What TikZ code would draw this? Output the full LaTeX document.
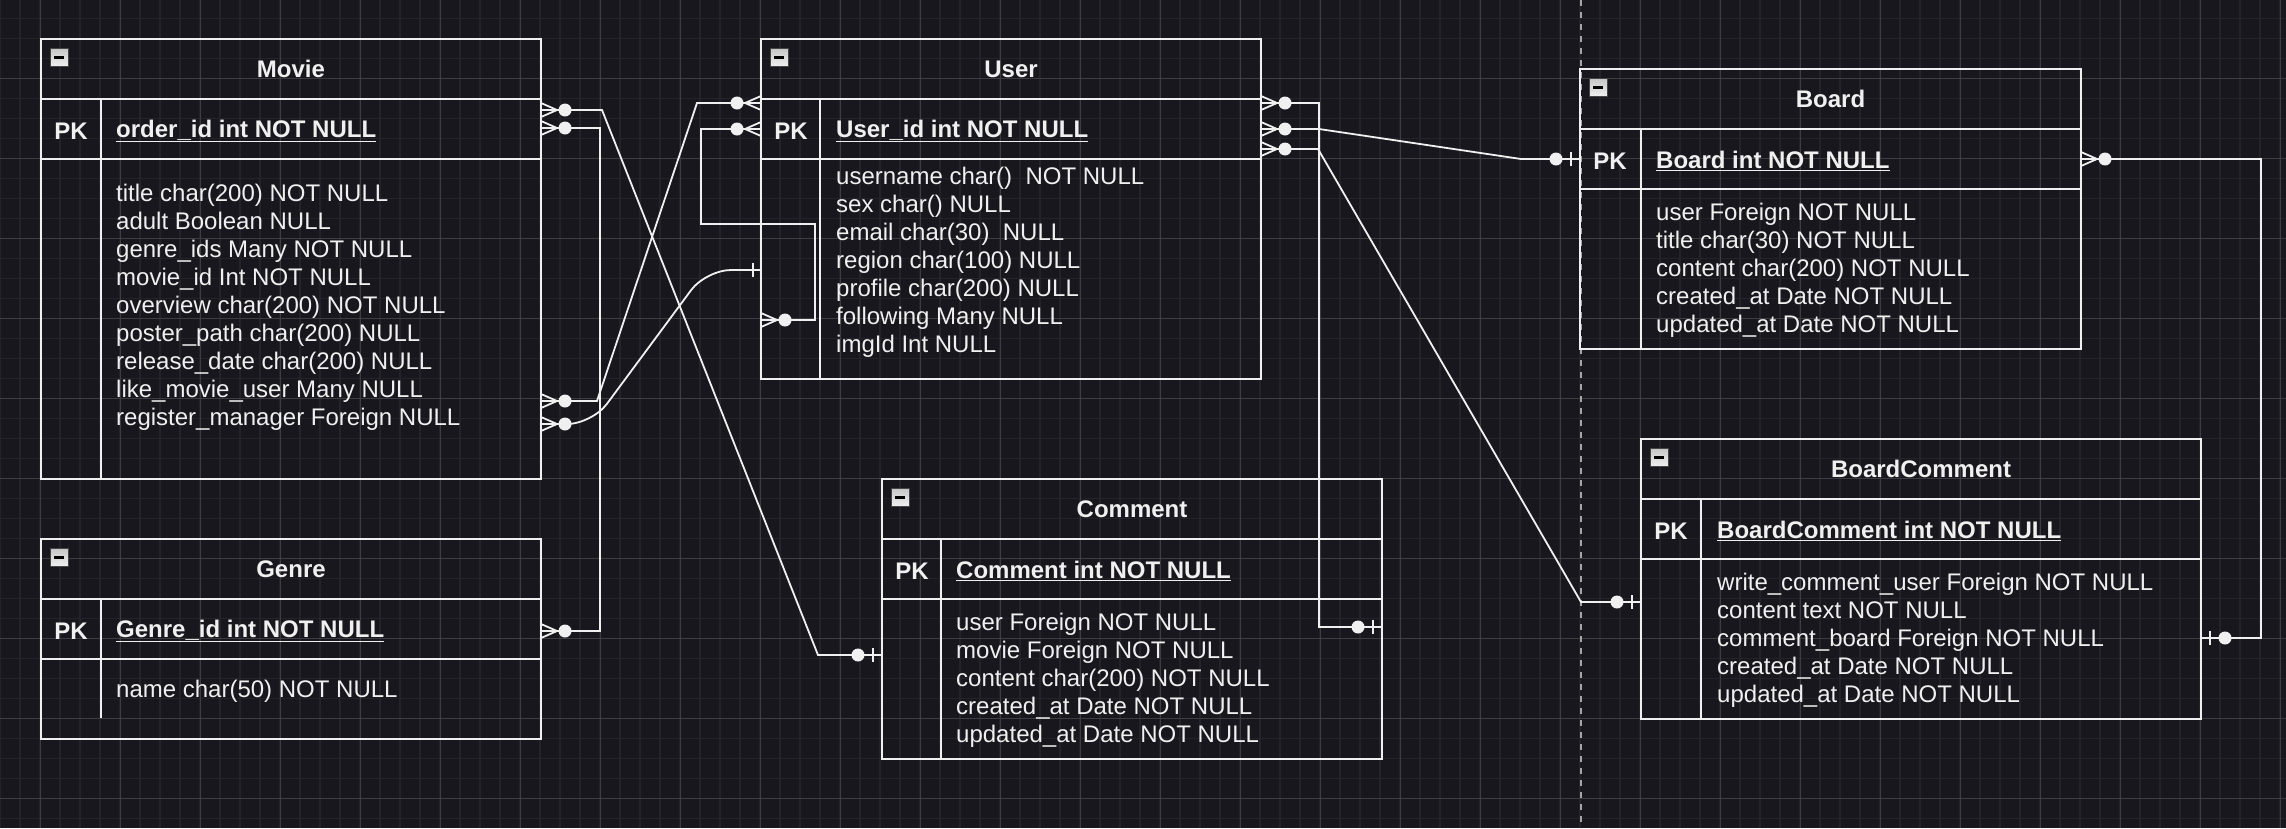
\documentclass[tikz,border=0pt]{standalone}
\usepackage{fontspec}
\setmainfont{Liberation Sans}
\usepackage{tikz}
\usetikzlibrary{positioning}
\definecolor{canvas}{RGB}{24,23,29}
\definecolor{gridminor}{RGB}{36,35,41}
\definecolor{gridmajor}{RGB}{62,61,66}
\definecolor{ink}{RGB}{240,240,240}
\newcommand{\erfont}{\fontsize{24}{28}\selectfont}
\tikzstyle{Link}=[draw=ink, line width=1.8pt]
\tikzset{
  ManyEnd/.pic={
    \draw[Link] (0,-7) -- (16,0) -- (0,7);
    \fill[ink] (24,0) circle[radius=6.5pt];
  },
  OneEnd/.pic={
    \draw[Link] (9,-7) -- (9,7);
    \fill[ink] (24,0) circle[radius=6.5pt];
  },
  BarEnd/.pic={
    \draw[Link] (8,-7) -- (8,7);
  }
}

\begin{document}
\begin{tikzpicture}[
  x=1pt, y=-1pt,
  Head/.style={draw=ink, line width=2.2pt, minimum height=60pt, outer sep=0, anchor=north west, font=\erfont\bfseries, text=ink},
  KeyRow/.style={draw=ink, line width=2.2pt, minimum height=60pt, outer sep=0},
  Body/.style={draw=ink, line width=2.2pt, outer sep=0},
  Frame/.style={draw=ink, line width=2.2pt},
  Pk/.style={font=\erfont\bfseries, text=ink, yshift=-2pt},
  Key/.style={anchor=west, inner sep=0, font=\erfont\bfseries, text=ink, yshift=-2pt},
  Fields/.style={anchor=north west, inner sep=0, align=left, font=\erfont, text=ink},
  Toggle/.style={draw=gray!55!black, top color=gray!45, bottom color=gray!12, minimum size=18pt, inner sep=0, anchor=north west},
  Split/.style={draw=gray!70, line width=2pt, dash pattern=on 6pt off 6pt}
]
\useasboundingbox (0,0) rectangle (2286,828);
\clip (0,0) rectangle (2286,828);
\fill[canvas] (0,0) rectangle (2286,828);
\draw[gridminor, line width=1.5pt, yshift=1.7pt] (0,830) grid[step=20pt] (2286,-2);
\draw[gridmajor, line width=1pt, xshift=40pt, yshift=1.7pt] (-40,830) grid[step=80pt] (2246,-2);
\draw[Split] (1581,0) -- (1581,828);

\node[Head, minimum width=500pt] (movie) at (41,39) {Movie};
\node[KeyRow, minimum width=500pt, below=0pt of movie] (moviePK) {};
\node[Body, minimum width=500pt, minimum height=320pt, below=0pt of moviePK] (movieBody) {};
\draw[Frame] ([xshift=60pt]moviePK.north west) -- ([xshift=60pt]movieBody.south west);
\node[Toggle] (movieToggle) at ([xshift=9pt,yshift=-9pt]movie.north west) {\rule{10pt}{3pt}};
\node[Pk] (moviePKLabel) at ([xshift=30pt]moviePK.west) {PK};
\node[Key] (movieKey) at ([xshift=75pt]moviePK.west) {\underline{order\_id int NOT NULL}};
\node[Fields] (movieFields) at ([xshift=75pt,yshift=-23pt]movieBody.north west) {\strut title char(200) NOT NULL\\adult Boolean NULL\\genre\_ids Many NOT NULL\\movie\_id Int NOT NULL\\overview char(200) NOT NULL\\poster\_path char(200) NULL\\release\_date char(200) NULL\\like\_movie\_user Many NULL\\register\_manager Foreign NULL};

\node[Head, minimum width=500pt] (genre) at (41,539) {Genre};
\node[KeyRow, minimum width=500pt, below=0pt of genre] (genrePK) {};
\node[Body, minimum width=500pt, minimum height=80pt, below=0pt of genrePK] (genreBody) {};
\draw[Frame] ([xshift=60pt]genrePK.north west) -- ([xshift=60pt,yshift=21pt]genreBody.south west);
\node[Toggle] (genreToggle) at ([xshift=9pt,yshift=-9pt]genre.north west) {\rule{10pt}{3pt}};
\node[Pk] (genrePKLabel) at ([xshift=30pt]genrePK.west) {PK};
\node[Key] (genreKey) at ([xshift=75pt]genrePK.west) {\underline{Genre\_id int NOT NULL}};
\node[Fields] (genreFields) at ([xshift=75pt,yshift=-19pt]genreBody.north west) {\strut name char(50) NOT NULL};

\node[Head, minimum width=500pt] (user) at (761,39) {User};
\node[KeyRow, minimum width=500pt, below=0pt of user] (userPK) {};
\node[Body, minimum width=500pt, minimum height=220pt, below=0pt of userPK] (userBody) {};
\draw[Frame] ([xshift=59pt]userPK.north west) -- ([xshift=59pt]userBody.south west);
\node[Toggle] (userToggle) at ([xshift=9pt,yshift=-9pt]user.north west) {\rule{10pt}{3pt}};
\node[Pk] (userPKLabel) at ([xshift=30pt]userPK.west) {PK};
\node[Key] (userKey) at ([xshift=75pt]userPK.west) {\underline{User\_id int NOT NULL}};
\node[Fields] (userFields) at ([xshift=75pt,yshift=-6pt]userBody.north west) {\strut username char()\ \ NOT NULL\\sex char() NULL\\email char(30)\ \ NULL\\region char(100) NULL\\profile char(200) NULL\\following Many NULL\\imgId Int NULL};

\node[Head, minimum width=500pt] (comment) at (882,479) {Comment};
\node[KeyRow, minimum width=500pt, below=0pt of comment] (commentPK) {};
\node[Body, minimum width=500pt, minimum height=160pt, below=0pt of commentPK] (commentBody) {};
\draw[Frame] ([xshift=59pt]commentPK.north west) -- ([xshift=59pt]commentBody.south west);
\node[Toggle] (commentToggle) at ([xshift=9pt,yshift=-9pt]comment.north west) {\rule{10pt}{3pt}};
\node[Pk] (commentPKLabel) at ([xshift=30pt]commentPK.west) {PK};
\node[Key] (commentKey) at ([xshift=74pt]commentPK.west) {\underline{Comment int NOT NULL}};
\node[Fields] (commentFields) at ([xshift=74pt,yshift=-12pt]commentBody.north west) {\strut user Foreign NOT NULL\\movie Foreign NOT NULL\\content char(200) NOT NULL\\created\_at Date NOT NULL\\updated\_at Date NOT NULL};

\node[Head, minimum width=501pt] (board) at (1580,69) {Board};
\node[KeyRow, minimum width=501pt, below=0pt of board] (boardPK) {};
\node[Body, minimum width=501pt, minimum height=160pt, below=0pt of boardPK] (boardBody) {};
\draw[Frame] ([xshift=61pt]boardPK.north west) -- ([xshift=61pt]boardBody.south west);
\node[Toggle] (boardToggle) at ([xshift=9pt,yshift=-9pt]board.north west) {\rule{10pt}{3pt}};
\node[Pk] (boardPKLabel) at ([xshift=30pt]boardPK.west) {PK};
\node[Key] (boardKey) at ([xshift=76pt]boardPK.west) {\underline{Board int NOT NULL}};
\node[Fields] (boardFields) at ([xshift=76pt,yshift=-12pt]boardBody.north west) {\strut user Foreign NOT NULL\\title char(30) NOT NULL\\content char(200) NOT NULL\\created\_at Date NOT NULL\\updated\_at Date NOT NULL};

\node[Head, minimum width=560pt] (bcomment) at (1641,439) {BoardComment};
\node[KeyRow, minimum width=560pt, below=0pt of bcomment] (bcommentPK) {};
\node[Body, minimum width=560pt, minimum height=160pt, below=0pt of bcommentPK] (bcommentBody) {};
\draw[Frame] ([xshift=60pt]bcommentPK.north west) -- ([xshift=60pt]bcommentBody.south west);
\node[Toggle] (bcommentToggle) at ([xshift=9pt,yshift=-9pt]bcomment.north west) {\rule{10pt}{3pt}};
\node[Pk] (bcommentPKLabel) at ([xshift=30pt]bcommentPK.west) {PK};
\node[Key] (bcommentKey) at ([xshift=76pt]bcommentPK.west) {\underline{BoardComment int NOT NULL}};
\node[Fields] (bcommentFields) at ([xshift=76pt,yshift=-12pt]bcommentBody.north west) {\strut write\_comment\_user Foreign NOT NULL\\content text NOT NULL\\comment\_board Foreign NOT NULL\\created\_at Date NOT NULL\\updated\_at Date NOT NULL};

\coordinate (mvCmt) at (541,110);
\coordinate (mvGenre) at (541,128);
\coordinate (mvLike) at (541,401);
\coordinate (mvReg) at (541,424);
\coordinate (gnMovie) at (541,631);
\coordinate (cmMovie) at (882,655);
\coordinate (usLike) at (761,103);
\coordinate (usFollowA) at (761,129);
\coordinate (usFollowB) at (761,320);
\coordinate (usReg) at (761,270);
\coordinate (usCmt) at (1261,103);
\coordinate (usBoard) at (1261,129);
\coordinate (usBCmt) at (1261,149);
\coordinate (cmUser) at (1382,627);
\coordinate (bdUser) at (1580,159);
\coordinate (bcUser) at (1641,602);
\coordinate (bdBCmt) at (2081,159);
\coordinate (bcBoard) at (2201,638);

\draw[Link] (mvCmt) -- (602,110) -- (818,655) -- (cmMovie);
\draw[Link] (mvGenre) -- (600,128) -- (600,631) -- (gnMovie);
\draw[Link] (mvLike) -- (597,401) -- (697,103) -- (usLike);
\draw[Link, rounded corners=25pt] (mvReg) -- (592,424) -- (706,270) -- (usReg);
\draw[Link] (usFollowA) -- (701,129) -- (701,224) -- (815,224) -- (815,320) -- (usFollowB);
\draw[Link] (usCmt) -- (1319,103) -- (1319,627) -- (cmUser);
\draw[Link] (usBoard) -- (1319,129) -- (1521,159) -- (bdUser);
\draw[Link] (usBCmt) -- (1318,149) -- (1581,602) -- (bcUser);
\draw[Link] (bdBCmt) -- (2261,159) -- (2261,638) -- (bcBoard);

\pic at (mvCmt) {ManyEnd};
\pic at (mvGenre) {ManyEnd};
\pic at (mvLike) {ManyEnd};
\pic at (mvReg) {ManyEnd};
\pic at (gnMovie) {ManyEnd};
\pic[xscale=-1] at (cmMovie) {OneEnd};
\pic[xscale=-1] at (usLike) {ManyEnd};
\pic[xscale=-1] at (usFollowA) {ManyEnd};
\pic at (usFollowB) {ManyEnd};
\pic[xscale=-1] at (usReg) {BarEnd};
\pic at (usCmt) {ManyEnd};
\pic at (usBoard) {ManyEnd};
\pic at (usBCmt) {ManyEnd};
\pic[xscale=-1] at (cmUser) {OneEnd};
\pic[xscale=-1] at (bdUser) {OneEnd};
\pic[xscale=-1] at (bcUser) {OneEnd};
\pic at (bdBCmt) {ManyEnd};
\pic at (bcBoard) {OneEnd};

\end{tikzpicture}
\end{document}
